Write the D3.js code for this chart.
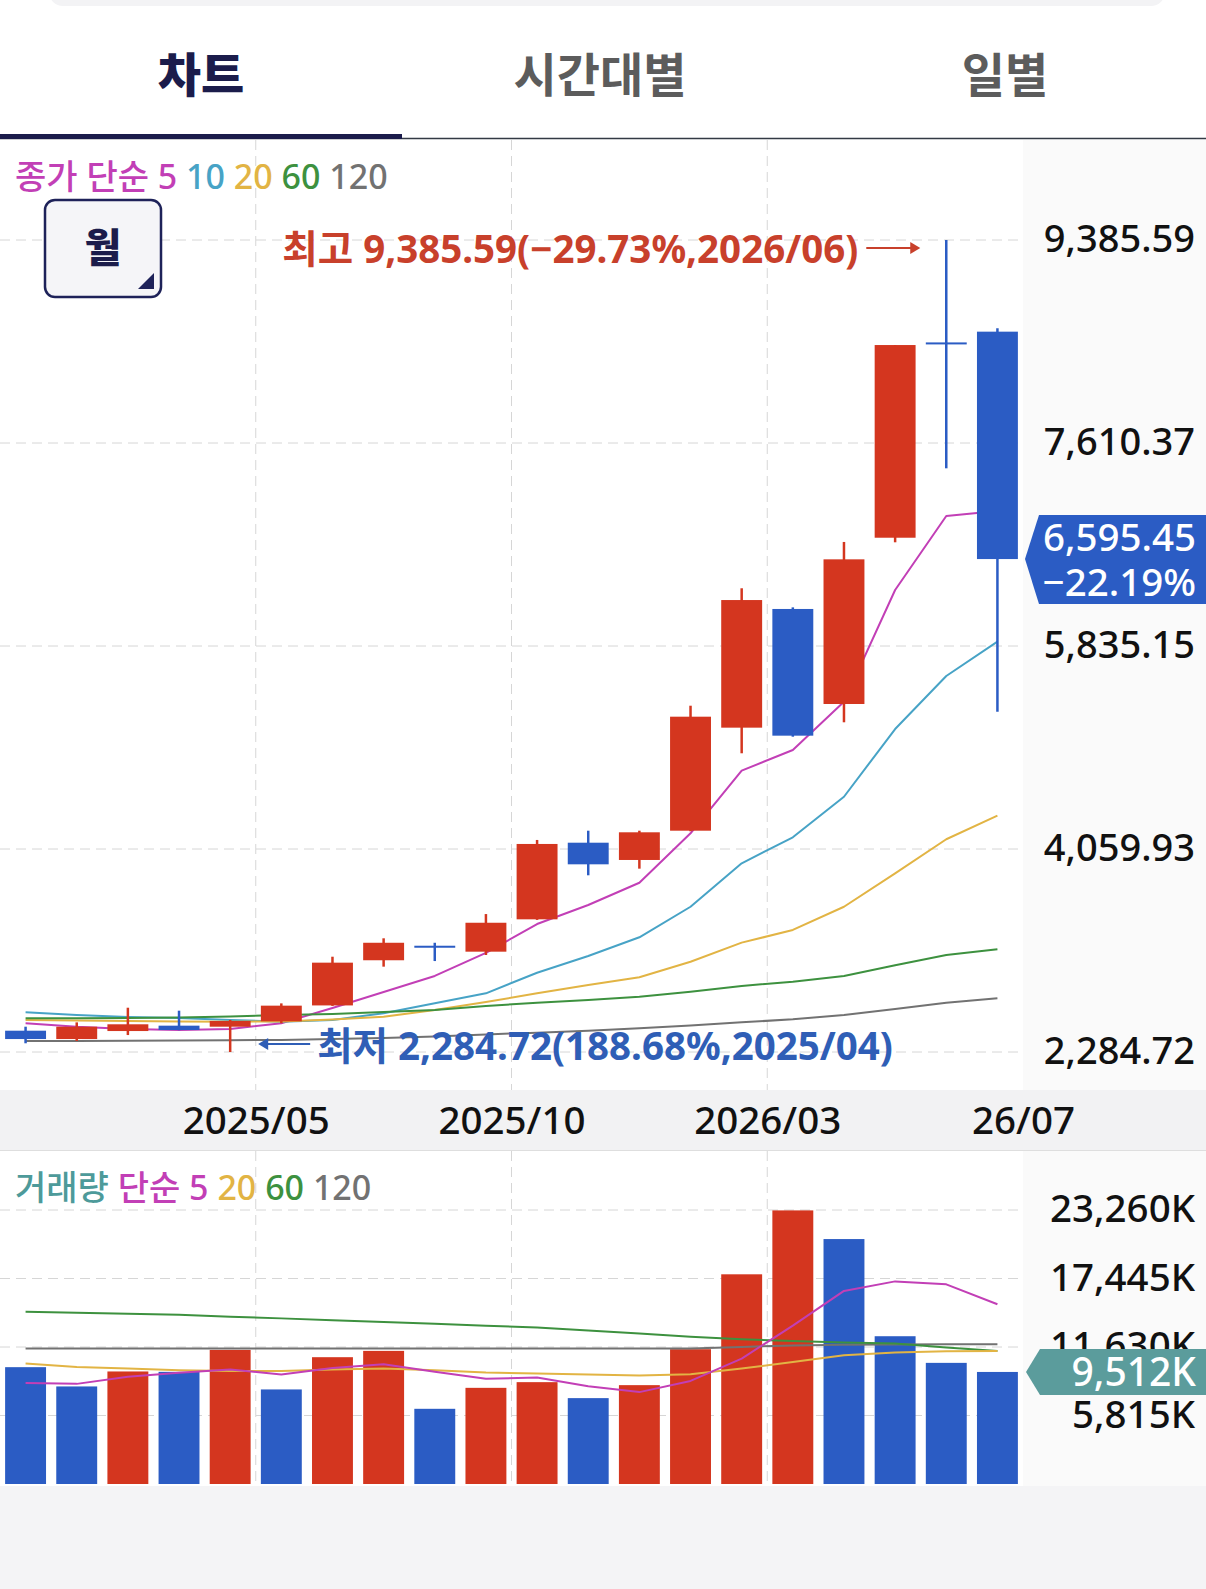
<!DOCTYPE html>
<html>
<head>
<meta charset="utf-8">
<script src="https://cdn.jsdelivr.net/npm/d3@7"></script>
<style>
  body { margin: 0; background: #fff; }
  svg text { font-family: "Noto Sans", "Noto Sans CJK KR", sans-serif; }
</style>
</head>
<body>
<div id="chart"></div>
<script>
// monthly candles, 2024/12 .. 2026/07
const months = ["2024/12", "2025/01", "2025/02", "2025/03", "2025/04", "2025/05", "2025/06", "2025/07",
  "2025/08", "2025/09", "2025/10", "2025/11", "2025/12", "2026/01", "2026/02", "2026/03",
  "2026/04", "2026/05", "2026/06", "2026/07"];
const opens  = [2471, 2398, 2468, 2515, 2506, 2553, 2692, 3087, 3214, 3162, 3445, 4115, 3964, 4220, 5121, 6159, 5328, 6782, 8490, 8584];
const highs  = [2506, 2544, 2672, 2646, 2565, 2710, 3118, 3279, 3240, 3491, 4139, 4220, 4220, 5313, 6340, 6173, 6745, 8467, 9385.59, 8613];
const lows   = [2361, 2381, 2433, 2475, 2284.72, 2536, 2688, 3031, 3080, 3133, 3440, 3830, 3888, 4215, 4897, 5042, 5168, 6742, 7389, 5261];
const closes = [2398, 2506, 2527, 2477, 2556, 2690, 3066, 3240, 3207, 3415, 4104, 3926, 4206, 5217, 6237, 5051, 6593, 8467, 8480, 6595.45];

// price moving averages (종가 단순)
const ma5   = [2536, 2506, 2486, 2477, 2486, 2536, 2670, 2810, 2950, 3151, 3404, 3570, 3765, 4197, 4745, 4926, 5348, 6325, 6972, 7016];
const ma10  = [2632, 2608, 2591, 2582, 2565, 2550, 2565, 2623, 2711, 2798, 2978, 3124, 3288, 3555, 3935, 4162, 4517, 5109, 5573, 5873];
const ma20  = [2565, 2560, 2556, 2551, 2550, 2551, 2569, 2593, 2652, 2722, 2798, 2871, 2938, 3074, 3241, 3352, 3555, 3847, 4145, 4351];
const ma60  = [2579, 2579, 2582, 2586, 2595, 2608, 2617, 2635, 2652, 2687, 2716, 2740, 2768, 2812, 2862, 2900, 2949, 3043, 3133, 3183];
const ma120 = [2381, 2381, 2384, 2386, 2388, 2390, 2398, 2407, 2420, 2438, 2454, 2471, 2492, 2517, 2544, 2571, 2608, 2661, 2716, 2754];

// volume in thousands
const volumes  = [9918, 8282, 9553, 9520, 11385, 8027, 10765, 11300, 6383, 8163, 8646, 7290, 8392, 11443, 17801, 23226, 20793, 12545, 10283, 9512];
const volMa5   = [8570, 8500, 9100, 9440, 9730, 9300, 9840, 10170, 9520, 8940, 9040, 8300, 7800, 8750, 10650, 13450, 16390, 17200, 16950, 15260];
const volMa20  = [10223, 9934, 9798, 9653, 9594, 9594, 9713, 9798, 9653, 9458, 9372, 9287, 9202, 9315, 9798, 10359, 10929, 11158, 11269, 11295];
const volMa60  = [14612, 14530, 14450, 14370, 14200, 14060, 13900, 13760, 13600, 13440, 13285, 13030, 12770, 12500, 12290, 12140, 12010, 11920, 11580, 11295];
const volMa120 = [11500, 11500, 11500, 11500, 11500, 11500, 11500, 11500, 11500, 11500, 11500, 11500, 11500, 11500, 11640, 11760, 11830, 11850, 11860, 11865];

// axis ticks
const priceTicks = [2284.72, 4059.93, 5835.15, 7610.37, 9385.59];
const volumeTicks = [5815, 11630, 17445, 23260];
const xTickLabels = ["2025/05", "2025/10", "2026/03", "26/07"];

const tabs = ["차트", "시간대별", "일별"];

const W = 1206, H = 1589;
const plotRight = 1023;
const RED = "#d4361f", BLUE = "#2b5cc4";
const maColors = ["#c23fb6", "#47a3c6", "#e2b444", "#3d913f", "#727272"];

const svg = d3.select("#chart").append("svg")
  .attr("width", W).attr("height", H);

// scales
const x = d3.scaleBand().domain(months).range([0, plotRight]);
const xEdge = d3.scaleLinear().domain([0, months.length]).range([0, plotRight]);
const y = d3.scaleLinear().domain([2284.72, 9385.59]).range([1052, 240]);
const yv = d3.scaleLinear().domain([0, 23260]).range([1484, 1210]);
const cx = d => x(d) + x.bandwidth() / 2;
const bodyW = x.bandwidth() * 0.8;

DrawFrame();
DrawTabs();
DrawPriceChart();
DrawVolumeChart();
DrawXAxis();

function DrawFrame() {
  // top card edge
  svg.append("rect").attr("x", 49).attr("y", -30).attr("width", 1116).attr("height", 36)
    .attr("rx", 14).attr("fill", "#f3f3f5");
  // right axis panels
  svg.append("rect").attr("x", plotRight).attr("y", 140).attr("width", W - plotRight).attr("height", 950)
    .attr("fill", "#fafafa");
  svg.append("rect").attr("x", plotRight).attr("y", 1150).attr("width", W - plotRight).attr("height", 336)
    .attr("fill", "#fafafa");
  // x axis band
  svg.append("rect").attr("x", 0).attr("y", 1090).attr("width", W).attr("height", 60)
    .attr("fill", "#f2f2f3");
  svg.append("line").attr("x1", 0).attr("x2", W).attr("y1", 1150.5).attr("y2", 1150.5)
    .attr("stroke", "#dedede");
  // bottom empty area
  svg.append("rect").attr("x", 0).attr("y", 1486).attr("width", W).attr("height", H - 1486)
    .attr("fill", "#f4f4f6");
}

function DrawTabs() {
  const tabX = [201, 600, 1005];
  svg.selectAll(".tab").data(tabs).join("text")
    .attr("class", "tab")
    .attr("x", (d, i) => tabX[i]).attr("y", 76).attr("dy", "0.35em")
    .attr("text-anchor", "middle")
    .attr("font-size", 47)
    .attr("font-weight", (d, i) => i === 0 ? 900 : 600)
    .attr("fill", (d, i) => i === 0 ? "#1b1c4b" : "#5c5c5c")
    .text(d => d);

  svg.append("line").attr("x1", 0).attr("x2", W).attr("y1", 138.5).attr("y2", 138.5)
    .attr("stroke", "#333a44").attr("stroke-width", 1.5);
  svg.append("rect").attr("x", 0).attr("y", 134).attr("width", 402).attr("height", 5)
    .attr("fill", "#1b1c4b");
}

function DrawGrid(yScale, ticks, y0, y1) {
  const g = svg.append("g").attr("stroke", "#d6d6d6").attr("stroke-dasharray", "10,6");
  g.selectAll("line.h").data(ticks).join("line")
    .attr("class", "h")
    .attr("x1", 0).attr("x2", plotRight)
    .attr("y1", d => yScale(d)).attr("y2", d => yScale(d));
  g.selectAll("line.v").data(xTickLabels.slice(0, 3)).join("line")
    .attr("class", "v")
    .attr("x1", d => xEdge(months.indexOf(d))).attr("x2", d => xEdge(months.indexOf(d)))
    .attr("y1", y0).attr("y2", y1);
}

function DrawLine(values, yScale, color, width) {
  svg.append("path")
    .datum(values)
    .attr("fill", "none")
    .attr("stroke", color)
    .attr("stroke-width", width)
    .attr("stroke-linejoin", "round")
    .attr("d", d3.line()
      .x((d, i) => cx(months[i]))
      .y(d => yScale(d)));
}

function DrawPriceChart() {
  DrawGrid(y, priceTicks, 140, 1090);

  // moving averages under the candles
  [ma5, ma10, ma20, ma60, ma120].forEach((m, k) => DrawLine(m, y, maColors[k], 2));

  const candles = months.map((m, i) => ({ m: m, o: opens[i], h: highs[i], l: lows[i], c: closes[i] }));
  const g = svg.append("g");
  g.selectAll("line.wick").data(candles).join("line")
    .attr("class", "wick")
    .attr("x1", d => cx(d.m)).attr("x2", d => cx(d.m))
    .attr("y1", d => y(d.h)).attr("y2", d => y(d.l))
    .attr("stroke", d => d.c >= d.o ? RED : BLUE)
    .attr("stroke-width", 2.5);
  g.selectAll("rect.body").data(candles).join("rect")
    .attr("class", "body")
    .attr("x", d => cx(d.m) - bodyW / 2)
    .attr("width", bodyW)
    .attr("y", d => Math.min(y(d.o), y(d.c)))
    .attr("height", d => Math.max(2, Math.abs(y(d.o) - y(d.c))))
    .attr("fill", d => d.c >= d.o ? RED : BLUE);

  // price axis on the right
  const axis = svg.append("g")
    .attr("transform", "translate(1195,0)")
    .call(d3.axisLeft(y).tickValues(priceTicks).tickSize(0).tickPadding(0).tickFormat(d3.format(",.2f")));
  axis.select(".domain").remove();
  axis.selectAll("text")
    .attr("font-size", 38).attr("font-weight", 500).attr("fill", "#111")
    .attr("font-family", null).attr("dy", "0.3em");

  // legend
  const legend = svg.append("text").attr("x", 15).attr("y", 177).attr("dy", "0.35em")
    .attr("font-size", 34).attr("font-weight", 500);
  const legendParts = ["종가 단순 5", " 10", " 20", " 60", " 120"];
  legendParts.forEach((t, k) => legend.append("tspan").attr("fill", maColors[k]).text(t));

  // period button
  svg.append("rect").attr("x", 45).attr("y", 200).attr("width", 116).attr("height", 97).attr("rx", 10)
    .attr("fill", "#f5f5f8").attr("stroke", "#1e2259").attr("stroke-width", 2.5);
  svg.append("text").attr("x", 103).attr("y", 248).attr("dy", "0.35em").attr("text-anchor", "middle")
    .attr("font-size", 40).attr("font-weight", 800).attr("fill", "#1b1c4b").text("월");
  svg.append("path").attr("d", "M154,273 L154,289 L138,289 Z").attr("fill", "#1e2259");

  // highest / lowest annotations
  const last = closes[closes.length - 1];
  const hiIdx = d3.maxIndex(highs), loIdx = d3.minIndex(lows);
  const pct = d3.format(".2f");
  const num = d3.format(",.2f");
  const hiText = `최고 ${num(highs[hiIdx])}(${pct((last / highs[hiIdx] - 1) * 100)}%,${months[hiIdx]})`;
  const loText = `최저 ${num(lows[loIdx])}(${pct((last / lows[loIdx] - 1) * 100)}%,${months[loIdx]})`;

  const hx = cx(months[hiIdx]) - 26, hy = y(highs[hiIdx]) + 8;
  svg.append("line").attr("x1", hx - 54).attr("x2", hx - 8).attr("y1", hy).attr("y2", hy)
    .attr("stroke", "#c8402b").attr("stroke-width", 2);
  svg.append("path").attr("d", `M${hx},${hy} L${hx - 10},${hy - 6} L${hx - 10},${hy + 6} Z`).attr("fill", "#c8402b");
  svg.append("text").attr("x", hx - 62).attr("y", hy + 2).attr("dy", "0.35em").attr("text-anchor", "end")
    .attr("font-size", 38.5).attr("font-weight", 700).attr("fill", "#c8402b").text(hiText);

  const lx = cx(months[loIdx]) + 28, ly = y(lows[loIdx]) - 8;
  svg.append("line").attr("x1", lx + 8).attr("x2", lx + 52).attr("y1", ly).attr("y2", ly)
    .attr("stroke", "#2f5eb6").attr("stroke-width", 2);
  svg.append("path").attr("d", `M${lx},${ly} L${lx + 10},${ly - 6} L${lx + 10},${ly + 6} Z`).attr("fill", "#2f5eb6");
  svg.append("text").attr("x", lx + 59).attr("y", ly + 3).attr("dy", "0.35em")
    .attr("font-size", 38.5).attr("font-weight", 700).attr("fill", "#2f5eb6").text(loText);

  // current price badge
  const by = y(last);
  svg.append("path")
    .attr("d", `M1025,${by} L1039,${by - 44} L${W},${by - 44} L${W},${by + 45} L1039,${by + 45} Z`)
    .attr("fill", BLUE);
  svg.append("text").attr("x", 1196).attr("y", by - 22).attr("dy", "0.35em").attr("text-anchor", "end")
    .attr("font-size", 38.5).attr("font-weight", 500).attr("fill", "#fff").text(num(last));
  svg.append("text").attr("x", 1196).attr("y", by + 23).attr("dy", "0.35em").attr("text-anchor", "end")
    .attr("font-size", 38.5).attr("font-weight", 500).attr("fill", "#fff").text(pct(-22.19) + "%");
}

function DrawVolumeChart() {
  DrawGrid(yv, volumeTicks, 1151, 1484);

  svg.append("g").selectAll("rect").data(volumes).join("rect")
    .attr("x", (d, i) => cx(months[i]) - bodyW / 2)
    .attr("width", bodyW)
    .attr("y", d => yv(d))
    .attr("height", d => yv(0) - yv(d))
    .attr("fill", (d, i) => i > 0 && d > volumes[i - 1] ? RED : BLUE);

  DrawLine(volMa120, yv, maColors[4], 2);
  DrawLine(volMa60, yv, maColors[3], 2);
  DrawLine(volMa20, yv, maColors[2], 2);
  DrawLine(volMa5, yv, maColors[0], 2);

  const fmtK = d => d3.format(",")(d) + "K";
  const axis = svg.append("g")
    .attr("transform", "translate(1195,0)")
    .call(d3.axisLeft(yv).tickValues(volumeTicks).tickSize(0).tickPadding(0).tickFormat(fmtK));
  axis.select(".domain").remove();
  axis.selectAll("text")
    .attr("font-size", 38.5).attr("font-weight", 500).attr("fill", "#111")
    .attr("font-family", null).attr("dy", "0.3em");

  // legend
  const legend = svg.append("text").attr("x", 15).attr("y", 1188).attr("dy", "0.35em")
    .attr("font-size", 34).attr("font-weight", 500);
  const parts = [["거래량 ", "#4d9a9a"], ["단순 5", maColors[0]], [" 20", maColors[2]], [" 60", maColors[3]], [" 120", maColors[4]]];
  parts.forEach(p => legend.append("tspan").attr("fill", p[1]).text(p[0]));

  // last volume badge
  const lastVol = volumes[volumes.length - 1];
  const by = yv(lastVol);
  svg.append("path")
    .attr("d", `M1026,${by} L1040,${by - 23} L${W},${by - 23} L${W},${by + 23} L1040,${by + 23} Z`)
    .attr("fill", "#5b9c9c");
  svg.append("text").attr("x", 1196).attr("y", by).attr("dy", "0.35em").attr("text-anchor", "end")
    .attr("font-size", 39).attr("font-weight", 500).attr("fill", "#fff").text(fmtK(lastVol));
}

function DrawXAxis() {
  const pos = xTickLabels.map(t => months.indexOf(t) >= 0 ? months.indexOf(t) : months.length);
  const axis = svg.append("g")
    .attr("transform", "translate(0,1121)")
    .call(d3.axisBottom(xEdge).tickValues(pos).tickSize(0).tickPadding(0).tickFormat((d, i) => xTickLabels[i]));
  axis.select(".domain").remove();
  axis.selectAll("text")
    .attr("font-size", 38.5).attr("font-weight", 500).attr("fill", "#111")
    .attr("font-family", null).attr("dy", "0.35em");
}
</script>
</body>
</html>
